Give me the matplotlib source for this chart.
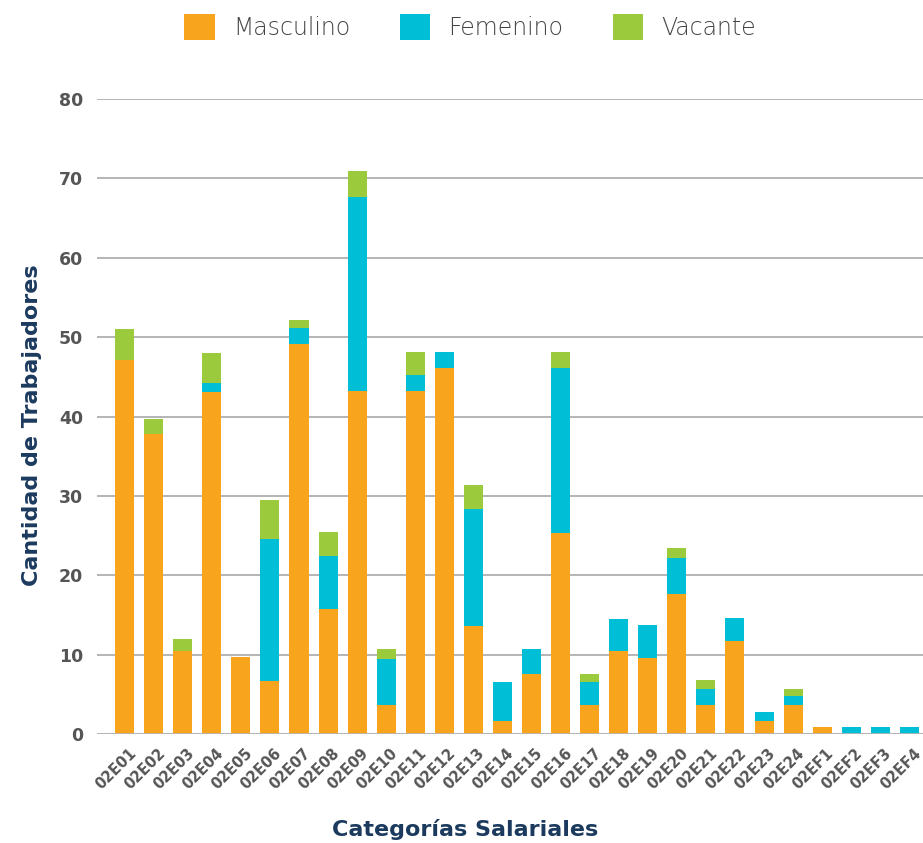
import matplotlib
matplotlib.use("Agg")
import matplotlib.pyplot as plt
import matplotlib.transforms as mtransforms
import numpy as np

categories = ["02E01", "02E02", "02E03", "02E04", "02E05", "02E06", "02E07",
              "02E08", "02E09", "02E10", "02E11", "02E12", "02E13", "02E14",
              "02E15", "02E16", "02E17", "02E18", "02E19", "02E20", "02E21",
              "02E22", "02E23", "02E24", "02EF1", "02EF2", "02EF3", "02EF4"]

masculino = [47.06, 37.83, 10.41, 43.03, 9.66, 6.68, 49.1, 15.7, 43.15, 3.6,
             43.15, 46.05, 13.55, 1.6, 7.52, 25.27, 3.6, 10.5, 9.52, 17.6,
             3.6, 11.66, 1.6, 3.6, 0.84, 0, 0, 0]
femenino = [0, 0, 0, 1.13, 0, 17.84, 2.0, 6.7, 24.55, 5.8,
            2.03, 2.02, 14.85, 5.0, 3.14, 20.78, 3.0, 4.05, 4.15, 4.6,
            2.02, 2.9, 1.12, 1.14, 0, 0.84, 0.84, 0.84]
vacante = [3.91, 1.8, 1.51, 3.78, 0, 4.91, 1.1, 3.1, 3.2, 1.26,
           2.89, 0, 2.94, 0, 0, 2.02, 0.92, 0, 0, 1.2,
           1.13, 0, 0, 0.88, 0, 0, 0, 0]

series_names = ["Masculino", "Femenino", "Vacante"]
colors = ["#F8A51D", "#00BED6", "#9BCB3C"]
y_ticks = [0, 10, 20, 30, 40, 50, 60, 70, 80]

W, H = 923, 843
fig = plt.figure(figsize=(W / 100, H / 100), dpi=100)
ax = fig.add_axes([97 / W, 1 - 734 / H, (923 - 97) / W, (734 - 99) / H])

x = np.arange(len(categories))
m = np.array(masculino)
f = np.array(femenino)
v = np.array(vacante)
bw = 0.655
b1 = ax.bar(x, m, bw, color=colors[0], label=series_names[0], zorder=3)
b2 = ax.bar(x, f, bw, bottom=m, color=colors[1], label=series_names[1], zorder=3)
b3 = ax.bar(x, v, bw, bottom=m + f, color=colors[2], label=series_names[2], zorder=3)

ax.set_xlim(-0.95, len(categories) - 1 + 0.47)
ax.set_ylim(0, 80)
ax.set_yticks(y_ticks)
ax.yaxis.grid(True, color="#A8A8A8", linewidth=1.2, zorder=0)
ax.set_axisbelow(True)
for s in ax.spines.values():
    s.set_visible(False)
ax.axhline(0, color="#B5B5B5", linewidth=2.0, zorder=4)

ax.tick_params(axis="y", length=0, pad=10, labelsize=12.5, labelcolor="#555555")
for t in ax.get_yticklabels():
    t.set_fontweight("bold")

ax.set_xticks(x)
ax.set_xticklabels(categories, rotation=45, ha="right", va="center",
                   rotation_mode="anchor", fontsize=10.5, fontweight="bold",
                   color="#555555")
ax.tick_params(axis="x", length=0, pad=12)
offset = mtransforms.ScaledTranslation(9 / 100, 0, fig.dpi_scale_trans)
for t in ax.get_xticklabels():
    t.set_transform(t.get_transform() + offset)

fig.text(465 / W, 1 - 829 / H, "Categorías Salariales", ha="center", va="center",
         fontsize=16, fontweight="bold", color="#1B3A5E")
fig.text(32 / W, 1 - 425 / H, "Cantidad de Trabajadores", ha="center", va="center",
         rotation=90, fontsize=16, fontweight="bold", color="#1B3A5E")

leg = fig.legend(handles=[b1, b2, b3], labels=series_names,
                 loc="center", bbox_to_anchor=(470 / W, 1 - 27 / H),
                 ncol=3, frameon=False, fontsize=17,
                 handlelength=1.3, handleheight=1.3, handletextpad=0.75,
                 columnspacing=2.1, borderpad=0)
for t in leg.get_texts():
    t.set_color("#444444")
    t.set_fontweight("light")

fig.savefig("out.png", dpi=100)
